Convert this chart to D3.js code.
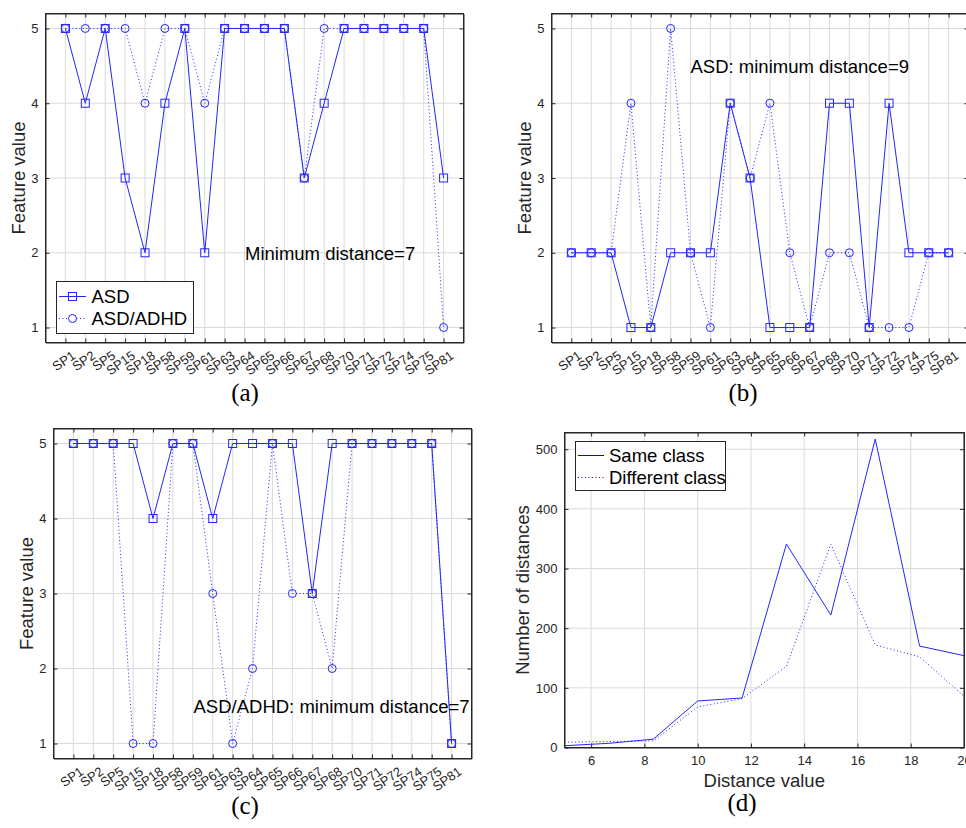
<!DOCTYPE html>
<html>
<head>
<meta charset="utf-8">
<script src="https://cdn.jsdelivr.net/npm/d3@7"></script>
<style>
  body { margin: 0; background: #fff; }
  svg { display: block; font-family: "Liberation Sans", Arial, sans-serif; }
</style>
</head>
<body>
<svg id="fig" width="966" height="828"></svg>
<script>
const speakers = ["SP1", "SP2", "SP5", "SP15", "SP18", "SP58", "SP59", "SP61", "SP63", "SP64",
  "SP65", "SP66", "SP67", "SP68", "SP70", "SP71", "SP72", "SP74", "SP75", "SP81"];

// (a) minimum distance
const asdA  = [5, 4, 5, 3, 2, 4, 5, 2, 5, 5, 5, 5, 3, 4, 5, 5, 5, 5, 5, 3];
const adhdA = [5, 5, 5, 5, 4, 5, 5, 4, 5, 5, 5, 5, 3, 5, 5, 5, 5, 5, 5, 1];
// (b) ASD minimum distance
const asdB  = [2, 2, 2, 1, 1, 2, 2, 2, 4, 3, 1, 1, 1, 4, 4, 1, 4, 2, 2, 2];
const adhdB = [2, 2, 2, 4, 1, 5, 2, 1, 4, 3, 4, 2, 1, 2, 2, 1, 1, 1, 2, 2];
// (c) ASD/ADHD minimum distance
const asdC  = [5, 5, 5, 5, 4, 5, 5, 4, 5, 5, 5, 5, 3, 5, 5, 5, 5, 5, 5, 1];
const adhdC = [5, 5, 5, 1, 1, 5, 5, 3, 1, 2, 5, 3, 3, 2, 5, 5, 5, 5, 5, 1];

// (d) distance histogram
const distValues = [5, 6.667, 8.333, 10, 11.667, 13.333, 15, 16.667, 18.333, 20];
const sameClass  = [3, 7, 14, 78, 83, 341, 222, 517, 170, 154];
const diffClass  = [9, 10, 11, 68, 82, 136, 341, 172, 152, 86];

const featureTicks = [1, 2, 3, 4, 5];
const distTicks = [6, 8, 10, 12, 14, 16, 18, 20];
const countTicks = [0, 100, 200, 300, 400, 500];

const svg = d3.select("#fig");
const blue = "#2424ff";
const ink = "#262626";
const gridColor = "#dadada";
const bigFont = 18.5;
const tickFont = 13;
const fmt = d3.format("d");

function styleAxis(g) {
  g.attr("font-family", null).attr("font-size", tickFont);
  g.selectAll("path, line").attr("stroke", ink);
  g.selectAll("text").attr("fill", ink);
}

function drawFrame(g, x, y, box, xTicks, yTicks) {
  // grid
  g.append("g").selectAll("line").data(xTicks).join("line")
    .attr("x1", d => x(d)).attr("x2", d => x(d))
    .attr("y1", box.t).attr("y2", box.b)
    .attr("stroke", gridColor);
  g.append("g").selectAll("line").data(yTicks).join("line")
    .attr("x1", box.l).attr("x2", box.r)
    .attr("y1", d => y(d)).attr("y2", d => y(d))
    .attr("stroke", gridColor);

  g.append("g").attr("transform", `translate(0,${box.t})`)
    .call(d3.axisTop(x).tickValues(xTicks).tickSizeInner(-4).tickSizeOuter(0).tickFormat(""))
    .call(styleAxis);
  g.append("g").attr("transform", `translate(${box.r},0)`)
    .call(d3.axisRight(y).tickValues(yTicks).tickSizeInner(-4).tickSizeOuter(0).tickFormat(""))
    .call(styleAxis);
  g.append("g").attr("transform", `translate(${box.l},0)`)
    .call(d3.axisLeft(y).tickValues(yTicks).tickSizeInner(-4).tickSizeOuter(0)
      .tickPadding(7).tickFormat(fmt))
    .call(styleAxis);
}

function featurePanel(box, asd, adhd, opts) {
  const g = svg.append("g");
  const x = d3.scalePoint().domain(speakers).range([box.l, box.r]).padding(1);
  const y = d3.scaleLinear().domain([0.8, 5.2]).range([box.b, box.t]);

  drawFrame(g, x, y, box, speakers, featureTicks);

  const xAxis = g.append("g").attr("transform", `translate(0,${box.b})`)
    .call(d3.axisBottom(x).tickSizeInner(-4).tickSizeOuter(0))
    .call(styleAxis);
  xAxis.selectAll("text")
    .attr("text-anchor", "end")
    .attr("x", 5).attr("y", 7).attr("dy", "0.75em")
    .attr("transform", "rotate(-35 5 7)");

  g.append("rect")
    .attr("x", box.l).attr("y", box.t)
    .attr("width", box.r - box.l).attr("height", box.b - box.t)
    .attr("fill", "none").attr("stroke", ink);

  const line = d3.line().x((d, i) => x(speakers[i])).y(d => y(d));

  g.append("path").datum(asd).attr("d", line)
    .attr("fill", "none").attr("stroke", blue).attr("stroke-width", 1);
  g.append("g").selectAll("rect").data(asd).join("rect")
    .attr("x", (d, i) => x(speakers[i]) - 4).attr("y", d => y(d) - 4)
    .attr("width", 8).attr("height", 8)
    .attr("fill", "none").attr("stroke", blue);

  g.append("path").datum(adhd).attr("d", line)
    .attr("fill", "none").attr("stroke", blue).attr("stroke-width", 1)
    .attr("stroke-dasharray", "1,2.5");
  g.append("g").selectAll("circle").data(adhd).join("circle")
    .attr("cx", (d, i) => x(speakers[i])).attr("cy", d => y(d)).attr("r", 4)
    .attr("fill", "none").attr("stroke", blue);

  g.append("text")
    .attr("x", box.l - 27.5).attr("y", (box.t + box.b) / 2)
    .attr("transform", `rotate(-90 ${box.l - 27.5} ${(box.t + box.b) / 2})`)
    .attr("text-anchor", "middle").attr("dominant-baseline", "central")
    .attr("font-size", bigFont).attr("fill", ink)
    .text("Feature value");

  g.append("text")
    .attr("x", opts.noteX).attr("y", opts.noteY)
    .attr("font-size", bigFont).attr("fill", "#000")
    .text(opts.note);

  if (opts.legend) {
    const lg = g.append("g");
    lg.append("rect").attr("x", 56.5).attr("y", 281.5).attr("width", 137).attr("height", 52)
      .attr("fill", "#fff").attr("stroke", ink);
    lg.append("line").attr("x1", 59).attr("x2", 86).attr("y1", 296.5).attr("y2", 296.5)
      .attr("stroke", blue);
    lg.append("rect").attr("x", 68.5).attr("y", 292.5).attr("width", 8).attr("height", 8)
      .attr("fill", "none").attr("stroke", blue);
    lg.append("line").attr("x1", 59).attr("x2", 86).attr("y1", 318.5).attr("y2", 318.5)
      .attr("stroke", blue).attr("stroke-dasharray", "1,2.5");
    lg.append("circle").attr("cx", 72.5).attr("cy", 318.5).attr("r", 4)
      .attr("fill", "#fff").attr("stroke", blue);
    lg.append("text").attr("x", 91.5).attr("y", 302.5).attr("font-size", bigFont).text("ASD");
    lg.append("text").attr("x", 91.5).attr("y", 324.5).attr("font-size", bigFont).text("ASD/ADHD");
  }

  svg.append("text")
    .attr("x", opts.capX).attr("y", opts.capY)
    .attr("text-anchor", "middle")
    .attr("font-family", "'Liberation Serif', 'DejaVu Serif', serif")
    .attr("font-size", 25)
    .text(opts.caption);
}

featurePanel({ l: 45.5, r: 463.5, t: 13.5, b: 342.5 }, asdA, adhdA,
  { note: "Minimum distance=7", noteX: 245, noteY: 259.5, legend: true,
    caption: "(a)", capX: 245, capY: 401 });
featurePanel({ l: 551.5, r: 968.5, t: 13.5, b: 342.5 }, asdB, adhdB,
  { note: "ASD: minimum distance=9", noteX: 690.5, noteY: 72.5,
    caption: "(b)", capX: 743, capY: 401 });
featurePanel({ l: 53.5, r: 471.5, t: 428.5, b: 758.5 }, asdC, adhdC,
  { note: "ASD/ADHD: minimum distance=7", noteX: 193.5, noteY: 712.5,
    caption: "(c)", capX: 245, capY: 814 });

// (d) histogram of distances
(function () {
  const box = { l: 564.5, r: 964, t: 432.5, b: 747.5 };
  const g = svg.append("g");
  const x = d3.scaleLinear().domain([5, 20]).range([box.l, box.r]);
  const y = d3.scaleLinear().domain([0, 528]).range([box.b, box.t]);

  drawFrame(g, x, y, box, distTicks, countTicks);

  g.append("g").attr("transform", `translate(0,${box.b})`)
    .call(d3.axisBottom(x).tickValues(distTicks).tickSizeInner(-4).tickSizeOuter(0)
      .tickPadding(8).tickFormat(fmt))
    .call(styleAxis);

  g.append("rect")
    .attr("x", box.l).attr("y", box.t)
    .attr("width", box.r - box.l).attr("height", box.b - box.t)
    .attr("fill", "none").attr("stroke", ink);

  const line = d3.line().x((d, i) => x(distValues[i])).y(d => y(d));
  g.append("path").datum(sameClass).attr("d", line)
    .attr("fill", "none").attr("stroke", blue);
  g.append("path").datum(diffClass).attr("d", line)
    .attr("fill", "none").attr("stroke", blue).attr("stroke-dasharray", "1,2.5");

  g.append("text")
    .attr("x", (box.l + box.r) / 2).attr("y", 787)
    .attr("text-anchor", "middle").attr("font-size", bigFont).attr("fill", ink)
    .text("Distance value");
  g.append("text")
    .attr("x", 522.5).attr("y", (box.t + box.b) / 2)
    .attr("transform", `rotate(-90 522.5 ${(box.t + box.b) / 2})`)
    .attr("text-anchor", "middle").attr("dominant-baseline", "central")
    .attr("font-size", bigFont).attr("fill", ink)
    .text("Number of distances");

  const lg = g.append("g");
  lg.append("rect").attr("x", 575.5).attr("y", 441.5).attr("width", 150).attr("height", 49)
    .attr("fill", "#fff").attr("stroke", ink);
  lg.append("line").attr("x1", 578).attr("x2", 604).attr("y1", 455.5).attr("y2", 455.5)
    .attr("stroke", "#0000ff");
  lg.append("line").attr("x1", 578).attr("x2", 604).attr("y1", 477.5).attr("y2", 477.5)
    .attr("stroke", "#0000ff").attr("stroke-dasharray", "1,2.5");
  lg.append("text").attr("x", 609).attr("y", 462).attr("font-size", bigFont).text("Same class");
  lg.append("text").attr("x", 609).attr("y", 484).attr("font-size", bigFont).text("Different class");

  svg.append("text")
    .attr("x", 742).attr("y", 811)
    .attr("text-anchor", "middle")
    .attr("font-family", "'Liberation Serif', 'DejaVu Serif', serif")
    .attr("font-size", 25)
    .text("(d)");
})();
</script>
</body>
</html>
